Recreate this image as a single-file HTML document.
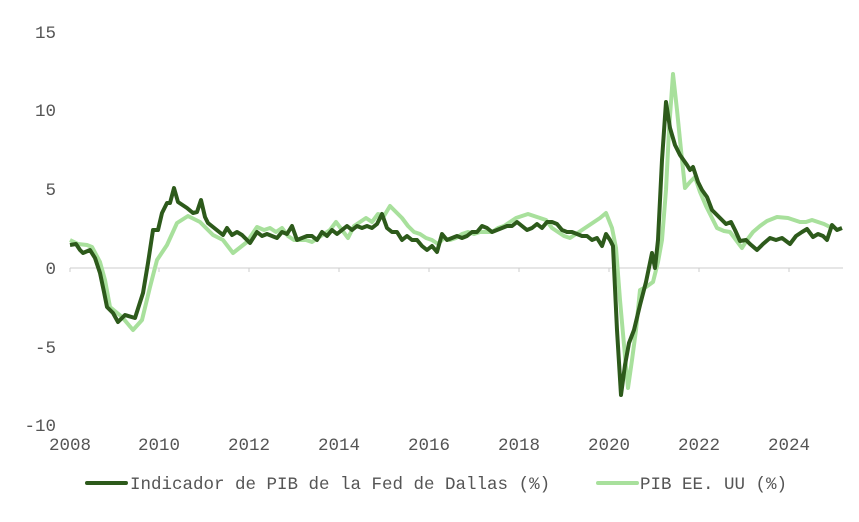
<!DOCTYPE html>
<html><head><meta charset="utf-8"><style>
body{margin:0;background:#fff;}
svg text{font-family:"Liberation Mono",monospace;fill:#555;font-size:17.5px;}
</style></head><body>
<svg width="859" height="517" viewBox="0 0 859 517">
<g text-anchor="end">
<text x="56" y="38">15</text>
<text x="56" y="116">10</text>
<text x="56" y="195">5</text>
<text x="56" y="274">0</text>
<text x="56" y="353">-5</text>
<text x="56" y="431">-10</text>
</g>
<line x1="70" y1="268" x2="843" y2="268" stroke="#ccc" stroke-width="1"/>
<g stroke="#ccc"><line x1="70" y1="268" x2="70" y2="272"/><line x1="159" y1="268" x2="159" y2="272"/><line x1="249" y1="268" x2="249" y2="272"/><line x1="339" y1="268" x2="339" y2="272"/><line x1="429" y1="268" x2="429" y2="272"/><line x1="519" y1="268" x2="519" y2="272"/><line x1="609" y1="268" x2="609" y2="272"/><line x1="699" y1="268" x2="699" y2="272"/><line x1="789" y1="268" x2="789" y2="272"/></g>
<g text-anchor="middle">
<text x="70" y="450">2008</text><text x="159" y="450">2010</text><text x="249" y="450">2012</text><text x="339" y="450">2014</text><text x="429" y="450">2016</text><text x="519" y="450">2018</text><text x="609" y="450">2020</text><text x="699" y="450">2022</text><text x="789" y="450">2024</text>
</g>
<polyline fill="none" stroke="#a8e09c" stroke-width="4" stroke-linejoin="round" points="70,240 78,244 87,245 92,247 100,262 105,280 110,307 122,317 133,330 142,320 150,287 157,260 167,245 177,223 188,216 200,222 213,235 223,240 233,253 247,242 257,227 264,230 270,228 276,232 282,228 288,236 294,240 300,240 306,240 312,242 318,238 324,234 330,230 336,222 342,230 348,238 354,226 360,222 366,218 372,222 378,214 384,216 390,206 396,212 402,218 408,226 414,232 420,234 426,238 432,240 438,244 444,238 450,240 456,238 462,234 468,232 474,234 480,232 486,232 492,232 498,228 504,226 510,222 516,218 522,216 528,214 534,216 540,218 546,220 552,228 558,232 564,236 570,238 576,234 582,230 588,226 594,222 600,218 606,213 612,228 616,248 620,300 624,345 628,388 632,360 636,330 640,290 646,287 653,282 658,262 662,240 666,190 669,130 673,74 677,110 681,150 685,188 690,182 695,177 700,192 706,206 712,218 717,228 724,231 730,232 736,240 742,248 747,240 753,232 760,226 767,221 777,217 788,218 800,222 806,222 812,220 818,222 824,224 832,228"/>
<polyline fill="none" stroke="#2d5a1b" stroke-width="4" stroke-linejoin="round" points="70,245 76,244 80,250 83,253 90,250 95,258 100,273 104,292 107,307 113,313 118,322 125,315 135,318 143,293 148,263 153,230 158,230 162,213 167,203 170,203 174,188 178,202 187,208 193,213 197,212 201,200 205,217 208,223 213,227 223,235 227,228 232,235 237,232 242,235 247,240 250,243 257,232 262,236 267,234 272,236 277,238 282,232 287,234 292,226 297,240 302,238 307,236 312,236 317,240 322,232 327,236 332,230 337,234 342,230 347,226 352,230 357,226 362,228 367,226 372,228 377,224 382,214 387,228 392,232 397,232 402,240 407,236 412,240 417,240 422,246 427,250 432,246 437,252 442,234 447,240 452,238 457,236 462,238 467,236 472,232 477,232 482,226 487,228 492,232 497,230 502,228 507,226 512,226 517,222 522,226 527,230 532,228 537,224 542,228 547,222 552,222 557,224 562,230 567,232 572,232 577,234 582,236 587,236 592,240 597,238 602,246 606,234 610,240 613,246 617,330 621,395 625,365 629,343 634,330 640,305 646,282 652,253 655,268 658,240 662,160 666,102 670,128 675,145 680,155 687,165 690,170 693,167 698,182 702,190 707,197 712,210 716,214 720,218 726,224 731,222 735,230 740,241 746,240 750,244 757,250 763,244 770,238 776,240 782,238 790,244 796,236 802,232 807,229 813,237 818,234 823,236 827,240 832,225 837,230 842,228"/>
<line x1="87" y1="483" x2="126" y2="483" stroke="#2d5a1b" stroke-width="4" stroke-linecap="round"/>
<text x="130" y="489">Indicador de PIB de la Fed de Dallas (%)</text>
<line x1="598" y1="483" x2="637" y2="483" stroke="#a8e09c" stroke-width="4" stroke-linecap="round"/>
<text x="640" y="489">PIB EE. UU (%)</text>
</svg>
</body></html>
